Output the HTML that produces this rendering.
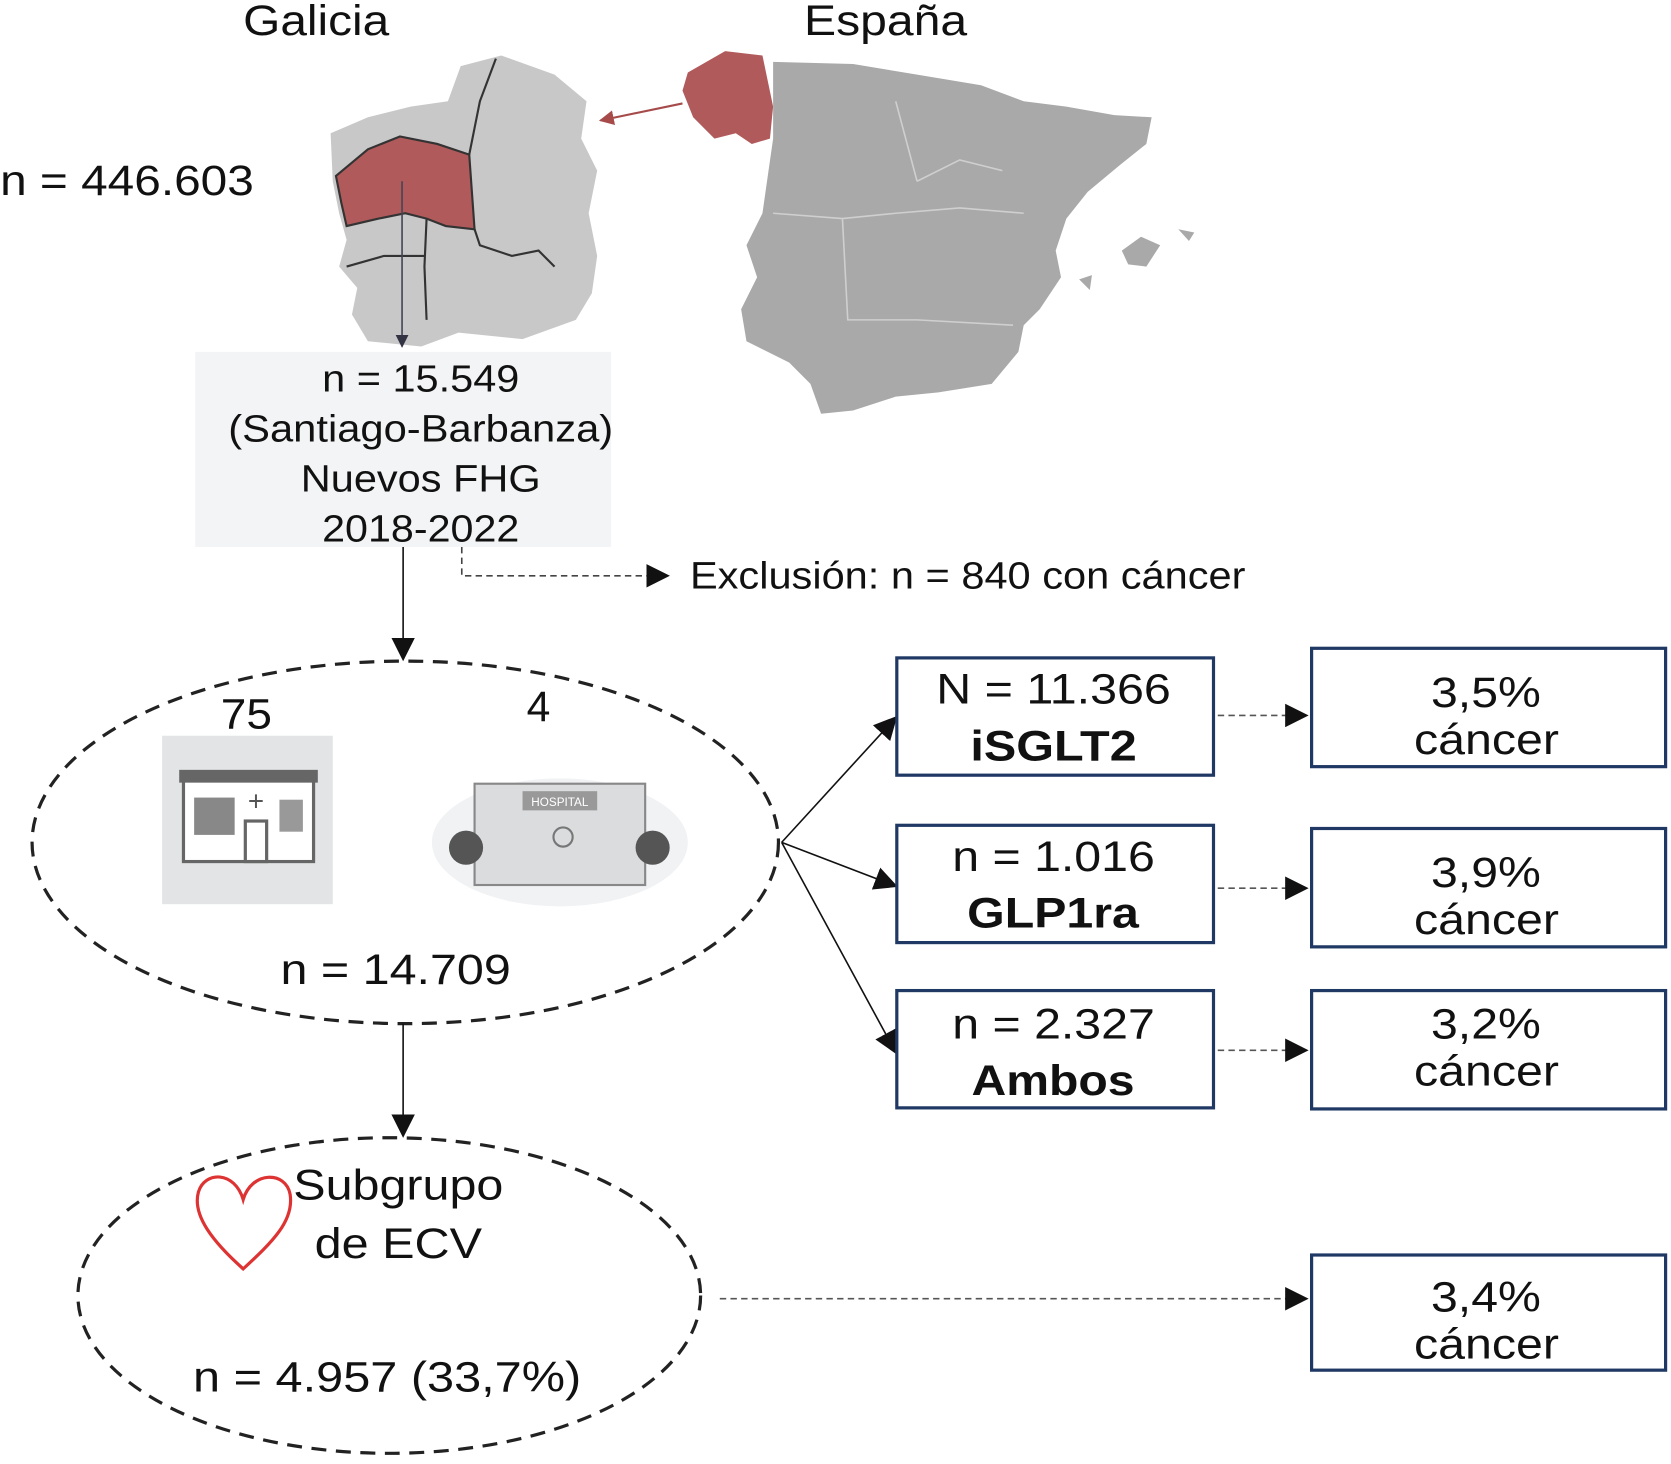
<!DOCTYPE html>
<html><head><meta charset="utf-8"><style>
html,body{margin:0;padding:0;background:#fff;}
svg{display:block;font-family:"Liberation Sans",sans-serif;}
</style></head><body>
<svg width="1671" height="1464" viewBox="0 0 1567 1373" xmlns="http://www.w3.org/2000/svg">
<defs>
<marker id="ah" viewBox="0 0 10 10" refX="9" refY="5" markerWidth="14" markerHeight="14" markerUnits="userSpaceOnUse" orient="auto"><path d="M0,0 L10,5 L0,10z" fill="#111"/></marker>
<marker id="ahb" viewBox="0 0 10 10" refX="9" refY="5" markerWidth="12" markerHeight="12" markerUnits="userSpaceOnUse" orient="auto"><path d="M0,0 L10,5 L0,10z" fill="#334"/></marker>
<marker id="ahr" viewBox="0 0 10 10" refX="9" refY="5" markerWidth="14" markerHeight="14" markerUnits="userSpaceOnUse" orient="auto"><path d="M0,0 L10,5 L0,10z" fill="#a64a4a"/></marker>
<marker id="ahd" viewBox="0 0 10 10" refX="9" refY="5" markerWidth="22" markerHeight="22" markerUnits="userSpaceOnUse" orient="auto"><path d="M0,0 L10,5 L0,10z" fill="#111"/></marker>
</defs>
<g font-size="40" fill="#111" lengthAdjust="spacingAndGlyphs">
<text x="228" y="33" textLength="137" lengthAdjust="spacingAndGlyphs">Galicia</text>
<text x="754" y="33" textLength="153" lengthAdjust="spacingAndGlyphs">España</text>
<text x="0" y="183" textLength="238" lengthAdjust="spacingAndGlyphs">n = 446.603</text>
</g>
<g>
<path d="M432,62 L470,52 L520,70 L550,95 L545,130 L560,160 L552,200 L560,240 L555,275 L540,300 L490,318 L430,312 L395,325 L345,320 L330,295 L335,270 L318,250 L325,225 L318,200 L312,170 L310,125 L345,110 L385,100 L420,95 Z" fill="#c8c8c8"/>
<path d="M315,165 L345,140 L375,128 L410,135 L440,145 L445,215 L418,212 L400,205 L380,200 L355,205 L325,212 L320,190 Z" fill="#b15a5b" stroke="#333" stroke-width="2"/>
<path d="M440,145 L450,95 L465,55 M445,215 L450,230 L480,240 L505,235 L520,250 M400,205 L398,250 L400,300 M325,250 L360,240 L398,240" fill="none" stroke="#333" stroke-width="2"/>
</g>
<g>
<path d="M725,58 L800,60 L860,70 L920,80 L960,95 L1000,100 L1045,108 L1080,110 L1075,135 L1050,155 L1020,180 L1000,205 L990,235 L995,260 L975,290 L960,305 L955,330 L930,360 L880,368 L840,372 L800,385 L770,388 L760,360 L740,340 L700,320 L695,290 L710,260 L700,230 L715,200 L720,165 L725,130 Z" fill="#a9a9a9"/>
<path d="M645,68 L680,48 L715,52 L725,100 L722,130 L705,135 L690,125 L670,130 L650,110 L640,85 Z" fill="#b15a5b"/>
<path d="M1052,235 L1070,222 L1088,230 L1075,250 L1058,248 Z M1012,262 L1024,258 L1022,272 Z M1105,215 L1120,218 L1115,226 Z" fill="#a9a9a9"/>
<path d="M725,200 L790,205 L840,200 L900,195 L960,200 M790,205 L795,300 L860,300 L950,305 M860,170 L900,150 L940,160 M840,95 L860,170" fill="none" stroke="#cfcfcf" stroke-width="1.5"/>
</g>
<line x1="640" y1="97" x2="563" y2="113" stroke="#a64a4a" stroke-width="2" marker-end="url(#ahr)"/>
<line x1="377" y1="170" x2="377" y2="325" stroke="#445" stroke-width="1.5" marker-end="url(#ahb)"/>
<g>
<rect x="183" y="330" width="390" height="183" fill="#f2f4f5"/>
<g font-size="36" fill="#111">
<text x="302" y="367" textLength="185" lengthAdjust="spacingAndGlyphs">n = 15.549</text>
<text x="214" y="414" textLength="361" lengthAdjust="spacingAndGlyphs">(Santiago-Barbanza)</text>
<text x="282" y="461" textLength="225" lengthAdjust="spacingAndGlyphs">Nuevos FHG</text>
<text x="302" y="508" textLength="185" lengthAdjust="spacingAndGlyphs">2018-2022</text>
</g></g>
<line x1="378" y1="513" x2="378" y2="618" stroke="#111" stroke-width="1.5" marker-end="url(#ahd)"/>
<polyline points="433,513 433,540 626,540" fill="none" stroke="#444" stroke-width="1.5" stroke-dasharray="6,4" marker-end="url(#ahd)"/>
<text x="647" y="552" font-size="36" fill="#111" textLength="521" lengthAdjust="spacingAndGlyphs">Exclusión: n = 840 con cáncer</text>
<ellipse cx="380" cy="790" rx="350" ry="170" fill="none" stroke="#222" stroke-width="3" stroke-dasharray="14,9"/>
<text x="207" y="683" font-size="40" fill="#111" textLength="48" lengthAdjust="spacingAndGlyphs">75</text>
<text x="505" y="676" font-size="40" text-anchor="middle" fill="#111">4</text>
<g>
<rect x="152" y="690" width="160" height="158" fill="#e2e4e5"/>
<rect x="172" y="728" width="122" height="80" fill="#fff" stroke="#666" stroke-width="3"/>
<rect x="168" y="722" width="130" height="12" fill="#666"/>
<rect x="182" y="748" width="38" height="35" fill="#888"/>
<rect x="230" y="770" width="20" height="38" fill="#fff" stroke="#666" stroke-width="3"/>
<rect x="262" y="750" width="22" height="30" fill="#999"/>
<text x="240" y="760" font-size="26" text-anchor="middle" fill="#555">+</text>
</g>
<g>
<ellipse cx="525" cy="790" rx="120" ry="60" fill="#f1f2f4"/>
<rect x="445" y="735" width="160" height="95" fill="#dadcde" stroke="#888" stroke-width="2"/>
<rect x="490" y="742" width="70" height="18" fill="#999"/>
<text x="525" y="756" font-size="11" text-anchor="middle" fill="#fff">HOSPITAL</text>
<circle cx="528" cy="785" r="9" fill="none" stroke="#777" stroke-width="2"/>
<circle cx="437" cy="795" r="16" fill="#555"/>
<circle cx="612" cy="795" r="16" fill="#555"/>
</g>
<text x="263" y="923" font-size="40" fill="#111" textLength="216" lengthAdjust="spacingAndGlyphs">n = 14.709</text>
<line x1="378" y1="960" x2="378" y2="1065" stroke="#111" stroke-width="1.5" marker-end="url(#ahd)"/>
<ellipse cx="365" cy="1215" rx="292" ry="148" fill="none" stroke="#222" stroke-width="3" stroke-dasharray="14,9"/>
<path d="M228,1190 C200,1165 180,1140 186,1118 C192,1098 220,1098 228,1125 C236,1098 268,1098 272,1120 C276,1145 255,1165 228,1190 Z" fill="none" stroke="#d33" stroke-width="3"/>
<g font-size="40" fill="#111">
<text x="275" y="1125" textLength="197" lengthAdjust="spacingAndGlyphs">Subgrupo</text>
<text x="295" y="1180" textLength="157" lengthAdjust="spacingAndGlyphs">de ECV</text>
<text x="181" y="1305" textLength="364" lengthAdjust="spacingAndGlyphs">n = 4.957 (33,7%)</text>
</g>
<g stroke="#111" stroke-width="1.5" marker-end="url(#ahd)">
<line x1="733" y1="790" x2="840" y2="673"/>
<line x1="733" y1="790" x2="840" y2="831"/>
<line x1="733" y1="790" x2="840" y2="987"/>
</g>
<g fill="#fff" stroke="#1f3864" stroke-width="3">
<rect x="841" y="617" width="297" height="110"/>
<rect x="841" y="774" width="297" height="110"/>
<rect x="841" y="929" width="297" height="110"/>
<rect x="1230" y="608" width="332" height="111"/>
<rect x="1230" y="777" width="332" height="111"/>
<rect x="1230" y="929" width="332" height="111"/>
<rect x="1230" y="1177" width="332" height="108"/>
</g>
<g font-size="40" fill="#111">
<text x="878" y="660" textLength="220" lengthAdjust="spacingAndGlyphs">N = 11.366</text><text x="910" y="713" font-weight="bold" textLength="156" lengthAdjust="spacingAndGlyphs">iSGLT2</text>
<text x="893" y="817" textLength="190" lengthAdjust="spacingAndGlyphs">n = 1.016</text><text x="907" y="870" font-weight="bold" textLength="161" lengthAdjust="spacingAndGlyphs">GLP1ra</text>
<text x="893" y="974" textLength="190" lengthAdjust="spacingAndGlyphs">n = 2.327</text><text x="911" y="1027" font-weight="bold" textLength="153" lengthAdjust="spacingAndGlyphs">Ambos</text>
<text x="1342" y="663" textLength="103" lengthAdjust="spacingAndGlyphs">3,5%</text><text x="1326" y="707" textLength="136" lengthAdjust="spacingAndGlyphs">cáncer</text>
<text x="1342" y="832" textLength="103" lengthAdjust="spacingAndGlyphs">3,9%</text><text x="1326" y="876" textLength="136" lengthAdjust="spacingAndGlyphs">cáncer</text>
<text x="1342" y="974" textLength="103" lengthAdjust="spacingAndGlyphs">3,2%</text><text x="1326" y="1018" textLength="136" lengthAdjust="spacingAndGlyphs">cáncer</text>
<text x="1342" y="1230" textLength="103" lengthAdjust="spacingAndGlyphs">3,4%</text><text x="1326" y="1274" textLength="136" lengthAdjust="spacingAndGlyphs">cáncer</text>
</g>
<g stroke="#555" stroke-width="1.5" stroke-dasharray="6,4" marker-end="url(#ahd)">
<line x1="1142" y1="671" x2="1225" y2="671"/>
<line x1="1142" y1="833" x2="1225" y2="833"/>
<line x1="1142" y1="985" x2="1225" y2="985"/>
<line x1="675" y1="1218" x2="1225" y2="1218"/>
</g>
</svg>
</body></html>
